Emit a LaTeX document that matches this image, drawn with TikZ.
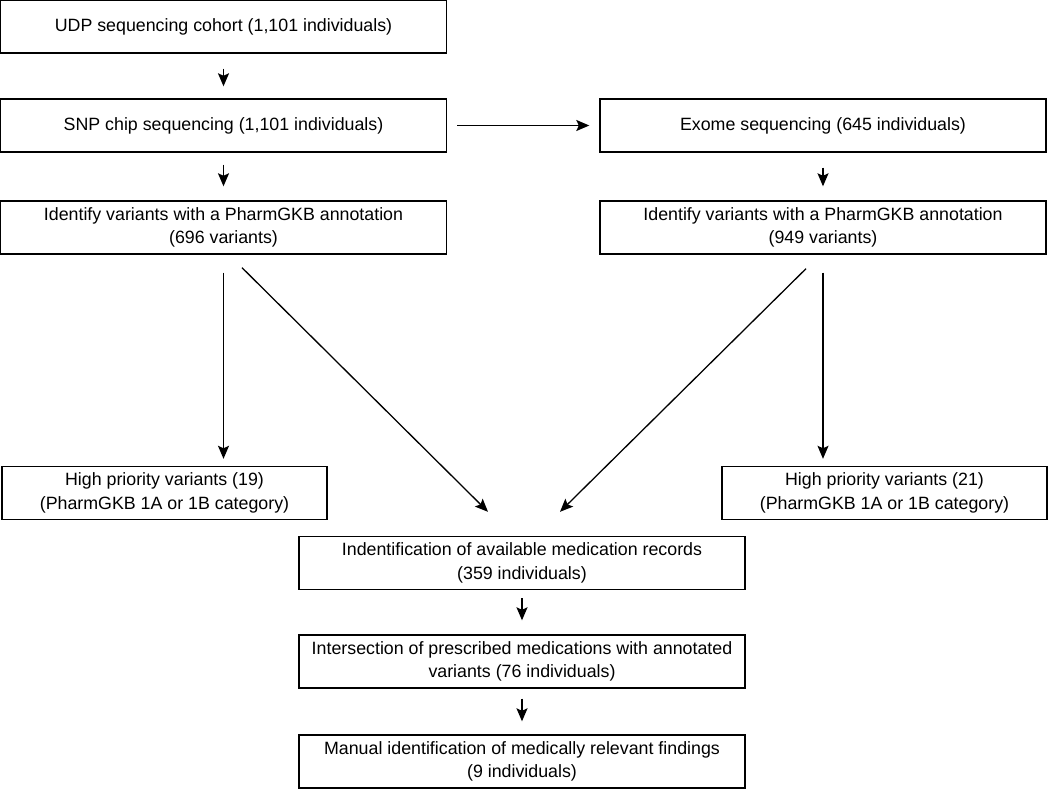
\documentclass[tikz,border=0pt]{standalone}
\usepackage{fontspec}
\setmainfont{Liberation Sans}
\usetikzlibrary{arrows.meta}

\begin{document}
\begin{tikzpicture}[
    x=1pt,y=-1pt,
    box/.style={draw, line width=1.4pt, inner sep=0pt, align=center,
      minimum width=446pt, minimum height=53pt,
      font=\fontsize{17.8}{23.5}\selectfont},
    small/.style={box, minimum width=325pt},
    arr/.style={line width=1.3pt, -{Stealth[length=13pt,width=11pt,inset=2.5pt]}}
    ]
    \useasboundingbox (0, 0) rectangle (1050, 789);
    \node[box] (udp) at (223.5, 26.5) {UDP sequencing cohort (1,101 individuals)};
    \node[box] (snp) at (223.5, 125.5) {SNP chip sequencing (1,101 individuals)};
    \node[box] (snpvar) at (223.5, 227.5) {Identify variants with a PharmGKB annotation\\(696 variants)};
    \node[box] (exome) at (823, 125.5) {Exome sequencing (645 individuals)};
    \node[box] (exvar) at (823, 227.5) {Identify variants with a PharmGKB annotation\\(949 variants)};
    \node[small] (high19) at (164.5, 493) {High priority variants (19)\\(PharmGKB 1A or 1B category)};
    \node[small] (high21) at (884.5, 493) {High priority variants (21)\\(PharmGKB 1A or 1B category)};
    \node[box] (medrec) at (522, 563) {Indentification of available medication records\\(359 individuals)};
    \node[box] (inter) at (522, 661.5) {Intersection of prescribed medications with annotated\\variants (76 individuals)};
    \node[box] (manual) at (522, 761.5) {Manual identification of medically relevant findings\\(9 individuals)};
    \draw[arr, shorten <=15pt, shorten >=12pt] (udp) -- (snp);
    \draw[arr, shorten <=12pt, shorten >=14pt] (snp) -- (snpvar);
    \draw[arr, shorten <=10pt, shorten >=10pt] (snp) -- (exome);
    \draw[arr, shorten <=15pt, shorten >=14pt] (exome) -- (exvar);
    \draw[arr, shorten <=18pt, shorten >=7pt] (snpvar.south) -- (snpvar.south |- high19.north);
    \draw[arr, shorten <=18pt, shorten >=7pt] (exvar.south) -- (exvar.south |- high21.north);
    \draw[arr] ([xshift=18.5pt,yshift=-13pt]snpvar.south) -- ([xshift=-34pt,yshift=24pt]medrec.north);
    \draw[arr] ([xshift=-17pt,yshift=-14pt]exvar.south) -- ([xshift=38pt,yshift=24pt]medrec.north);
    \draw[arr, shorten <=8pt, shorten >=14pt] (medrec) -- (inter);
    \draw[arr, shorten <=10pt, shorten >=13pt] (inter) -- (manual);
  \end{tikzpicture}
\end{document}
